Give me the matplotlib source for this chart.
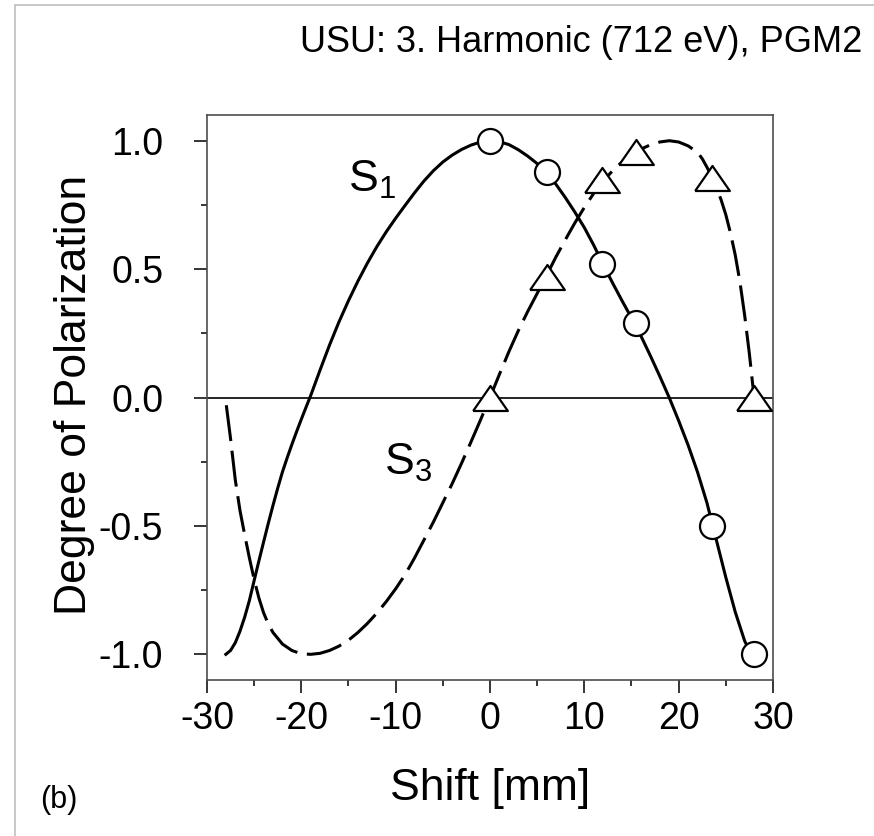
import matplotlib
matplotlib.use("Agg")
import matplotlib.pyplot as plt
from matplotlib.patches import Rectangle
from matplotlib.ticker import MultipleLocator

plt.rcParams['font.family'] = ['Liberation Sans', 'DejaVu Sans']
plt.rcParams['mathtext.fontset'] = 'custom'
plt.rcParams['mathtext.rm'] = 'Liberation Sans'
plt.rcParams['lines.scale_dashes'] = False

# fitted curves along the shift axis [mm]
s1_x = [-28, -27.5, -27, -26.5, -26, -25.5, -25, -24.5, -24, -23.5,
        -23, -22.5, -22, -21.5, -21, -20.5, -20, -19.5, -19, -18,
        -17, -16, -15, -14, -13, -12, -11, -10, -9, -8,
        -7, -6, -5, -4, -3, -2, -1, 0, 1, 2,
        3, 4, 5, 6, 7, 8, 9, 10, 11, 12,
        13, 14, 15, 16, 17, 18, 19, 20, 21, 22,
        23, 24, 25, 26, 27, 27.5, 28]
s1_y = [-1.0, -0.985, -0.955, -0.91, -0.855, -0.79, -0.713, -0.637, -0.563, -0.49,
        -0.42, -0.353, -0.29, -0.235, -0.183, -0.133, -0.085, -0.038, 0.008, 0.108,
        0.205, 0.295, 0.377, 0.453, 0.523, 0.587, 0.645, 0.698, 0.748, 0.797,
        0.843, 0.883, 0.917, 0.944, 0.966, 0.983, 0.995, 1.0, 0.996, 0.985,
        0.965, 0.94, 0.911, 0.878, 0.83, 0.778, 0.722, 0.662, 0.593, 0.518,
        0.446, 0.377, 0.31, 0.24, 0.163, 0.083, 0.0, -0.09, -0.185, -0.29,
        -0.41, -0.555, -0.7, -0.835, -0.948, -0.985, -1.0]

s3_x = [-27.95, -27.5, -27, -26.5, -26, -25.5, -25, -24.5, -24, -23.5,
        -23, -22, -21, -20, -19, -18, -17, -16, -15, -14,
        -13, -12, -11, -10, -9, -8, -7, -6, -5, -4,
        -3, -2, -1, 0, 1, 2, 3, 4, 5, 6,
        7, 8, 9, 10, 11, 12, 13, 14, 15, 16,
        17, 18, 19, 20, 21, 22, 22.5, 23, 23.5, 24,
        24.5, 25, 25.5, 26, 26.5, 27, 27.5, 28]
s3_y = [-0.03, -0.16, -0.32, -0.44, -0.535, -0.625, -0.708, -0.78, -0.838, -0.882,
        -0.915, -0.96, -0.985, -0.998, -1.0, -0.996, -0.985, -0.968, -0.945, -0.915,
        -0.88, -0.84, -0.795, -0.745, -0.69, -0.625, -0.555, -0.485, -0.41, -0.335,
        -0.255, -0.172, -0.087, 0.0, 0.09, 0.178, 0.26, 0.335, 0.405, 0.475,
        0.548, 0.615, 0.68, 0.74, 0.795, 0.843, 0.883, 0.917, 0.945, 0.967,
        0.984, 0.995, 1.0, 0.995, 0.98, 0.955, 0.93, 0.897, 0.86, 0.818,
        0.77, 0.712, 0.64, 0.555, 0.45, 0.32, 0.17, 0.0]

# measured points
meas_x = [0.0, 6.0, 11.85, 15.5, 23.5, 28.0]
s1_meas = [1.0, 0.878, 0.521, 0.29, -0.5, -1.0]
s3_meas = [0.0, 0.469, 0.846, 0.956, 0.853, 0.0]

fig = plt.figure(figsize=(8.74, 8.36), dpi=100)
ax = fig.add_axes([0.2368, 0.1866, 0.6476, 0.6758])

# thin grey frame round the panel
fig.patches.append(Rectangle((15 / 874, -0.05), 1.2, 1 - 5 / 836 + 0.05,
                             transform=fig.transFigure, fill=False,
                             edgecolor='0.75', linewidth=1.2))

ax.axhline(0, color='black', lw=1.2, zorder=1)
ax.plot(s1_x, s1_y, color='black', lw=2.2, solid_joinstyle='round', zorder=2)
ax.plot(s3_x, s3_y, color='black', lw=2.2, dashes=(26, 7), zorder=2)

tri = [(-1, -0.72), (1, -0.72), (0, 0.72), (-1, -0.72)]
ax.plot(meas_x, s1_meas, ls='none', marker='o', ms=18, mfc='white',
        mec='black', mew=1.6, zorder=3)
ax.plot(meas_x, s3_meas, ls='none', marker=tri, ms=25, mfc='white',
        mec='black', mew=1.6, zorder=3)

ax.text(-15.1, 0.80, r'S$_\mathregular{1}$', fontsize=32)
ax.text(-11.2, -0.30, r'S$_\mathregular{3}$', fontsize=32)

ax.set_xlim(-30, 30)
ax.set_ylim(-1.1, 1.1)
ax.xaxis.set_major_locator(MultipleLocator(10))
ax.xaxis.set_minor_locator(MultipleLocator(5))
ax.yaxis.set_major_locator(MultipleLocator(0.5))
ax.yaxis.set_minor_locator(MultipleLocator(0.25))
ax.xaxis.set_major_formatter(lambda v, p: f'{v:.0f}')
ax.yaxis.set_major_formatter(lambda v, p: f'{v:.1f}')
ax.tick_params(which='major', direction='out', length=9.4, width=1.1,
               labelsize=27, pad=6)
ax.tick_params(which='minor', direction='out', length=4.3, width=1.1)
ax.tick_params(axis='y', which='major', pad=22)
for s in ax.spines.values():
    s.set_color('0.3')
    s.set_linewidth(1.2)

fig.text(862 / 874, 1 - 52 / 836, 'USU: 3. Harmonic (712 eV), PGM2',
         ha='right', va='baseline', fontsize=26)
fig.text(75 / 874, 1 - 395 / 836, 'Degree of Polarization', rotation=90,
         ha='center', va='center', fontsize=32)
fig.text(490 / 874, 1 - 800 / 836, 'Shift [mm]', ha='center', va='baseline',
         fontsize=32)
fig.text(40 / 874, 1 - 808 / 836, '(b)', ha='left', va='baseline', fontsize=22)

fig.savefig('out.png', dpi=100)
